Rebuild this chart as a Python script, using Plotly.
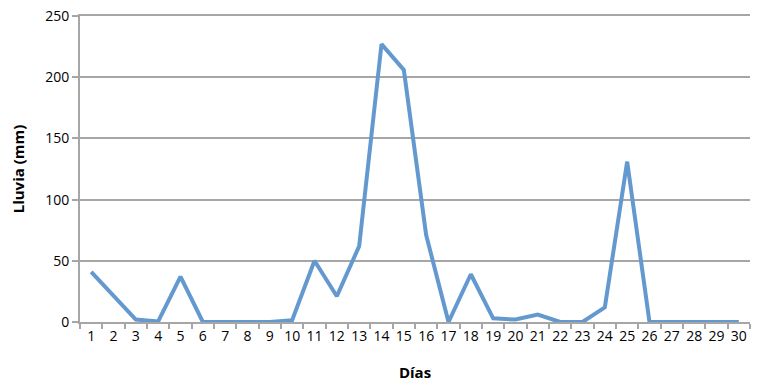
import plotly.graph_objects as go

dias = [str(d) for d in range(1, 31)]
lluvia = [41, 21, 2, 0.5, 37, 0, 0, 0, 0, 1.5, 50, 21, 62, 227, 206, 71, 0, 39, 3, 2, 6, 0, 0, 12, 131, 0, 0, 0, 0, 0]

grid = "#a6a6a6"
font = "Open Sans"

fig = go.Figure()
fig.add_trace(go.Scatter(x=dias, y=lluvia, mode="lines",
                         line=dict(color="#6399cf", width=4), showlegend=False))

fig.update_layout(
    width=761, height=385,
    margin=dict(l=80, r=11, t=16, b=63, autoexpand=False),
    paper_bgcolor="white", plot_bgcolor="white",
    font=dict(family=font, size=14, color="#000000"),
)
fig.update_xaxes(
    type="category", tickson="boundaries", ticks="outside", ticklen=5,
    tickcolor=grid, tickwidth=2, showline=True, mirror=True, linecolor=grid, linewidth=2,
    showgrid=False, tickfont=dict(size=14), tickangle=0, automargin=False,
    range=[-0.5, 29.5], ticklabeloverflow="allow",
    title=dict(text="<b>Días</b>", font=dict(size=15), standoff=24),
)
fig.update_yaxes(
    range=[0, 250], dtick=50, ticks="outside", ticklen=6, tickcolor=grid, tickwidth=2,
    showline=True, linecolor=grid, linewidth=2, showgrid=True, gridcolor=grid,
    gridwidth=2, zeroline=False, tickfont=dict(size=14), automargin=False,
    ticklabeloverflow="allow",
    title=dict(text="<b>Lluvia (mm)</b>", font=dict(size=15), standoff=17),
)
# remove the browser's default 8px body margin so the figure sits at the page origin
fig.write_html("out.html", config={"displayModeBar": False},
               post_script="document.body.style.margin='0';")
